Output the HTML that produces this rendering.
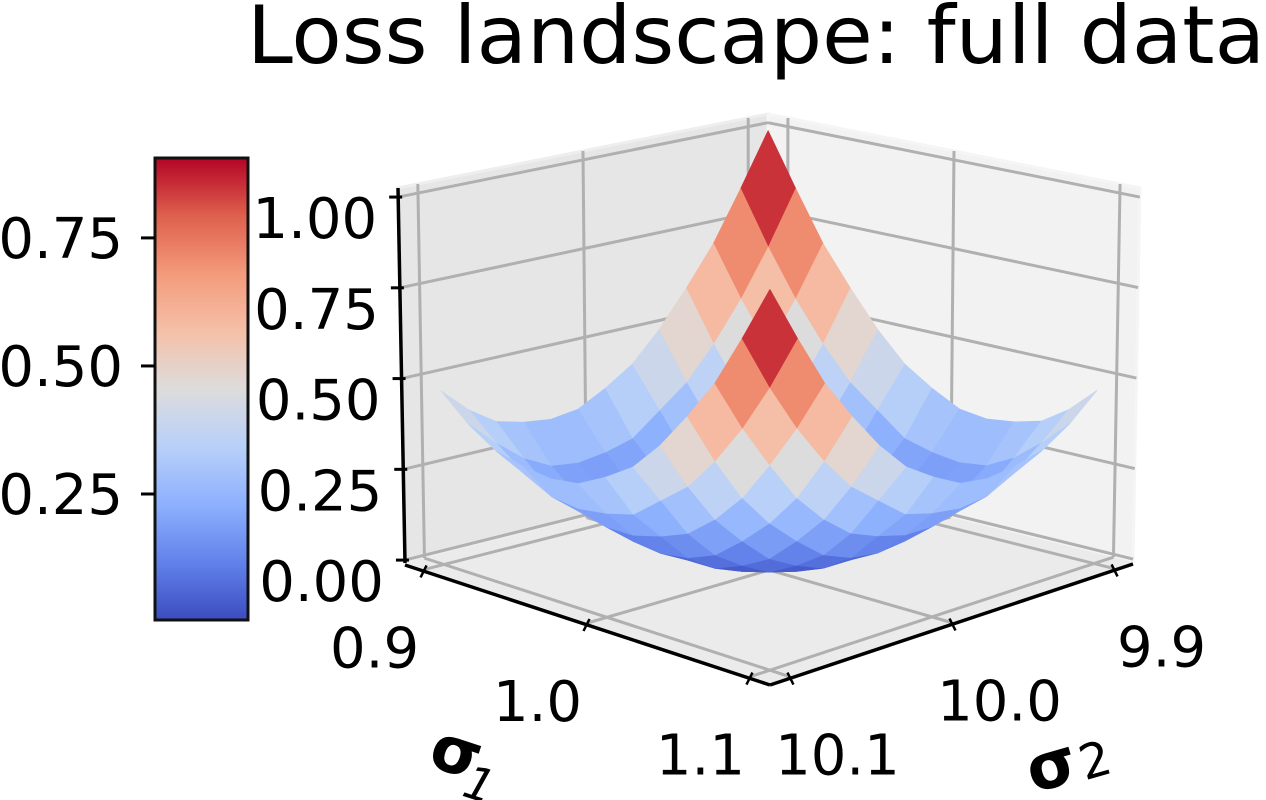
<!DOCTYPE html>
<html><head><meta charset="utf-8"><style>
html,body{margin:0;padding:0;background:#fff;}
svg{display:block;font-family:"DejaVu Sans","Liberation Sans",sans-serif;}
</style></head><body>
<svg id="chart" width="1266" height="800" viewBox="0 0 1266 800" xmlns="http://www.w3.org/2000/svg">
<defs>
<linearGradient id="cmapGrad" x1="0" y1="1" x2="0" y2="0">
<stop offset="0" stop-color="#3b4cc0"/><stop offset="0.125" stop-color="#6282ea"/><stop offset="0.25" stop-color="#8db0fe"/><stop offset="0.375" stop-color="#b8d0f9"/><stop offset="0.5" stop-color="#dddcdc"/><stop offset="0.625" stop-color="#f5c0a8"/><stop offset="0.75" stop-color="#f49a7b"/><stop offset="0.875" stop-color="#de604d"/><stop offset="1" stop-color="#b40426"/>
</linearGradient>
</defs>
<text x="247" y="63" font-size="80" textLength="1018" lengthAdjust="spacingAndGlyphs">Loss landscape: full data</text>
<g id="panes"></g><g id="grid"></g><g id="axes"></g><g id="surface"></g><g id="cbar"></g>
<g transform="rotate(18 465 765)">
<text x="428" y="777" font-size="64" font-weight="bold">σ</text><text x="470" y="795" font-size="46" font-style="italic">1</text></g>
<g transform="rotate(-16 1070 765)">
<text x="1027" y="782" font-size="64" font-weight="bold">σ</text><text x="1080" y="784" font-size="48">2</text></g>
</svg>
<script>
const sigma1 = [0.9,0.9167,0.9333,0.95,0.9667,0.9833,1.0,1.0167,1.0333,1.05,1.0667,1.0833,1.1];
const sigma2 = [9.9,9.9167,9.9333,9.95,9.9667,9.9833,10.0,10.0167,10.0333,10.05,10.0667,10.0833,10.1];
const loss = [
[1.00,.85,.71,.60,.50,.42,.37,.33,.32,.33,.35,.40,.47],
[.85,.70,.57,.46,.37,.31,.25,.23,.22,.23,.27,.33,.40],
[.71,.57,.45,.34,.26,.20,.17,.15,.15,.17,.20,.27,.35],
[.60,.46,.34,.25,.18,.12,.09,.08,.09,.12,.17,.23,.33],
[.50,.37,.26,.18,.11,.07,.04,.04,.06,.09,.15,.22,.32],
[.42,.31,.20,.12,.07,.03,.01,.01,.04,.08,.15,.23,.33],
[.37,.25,.17,.09,.04,.01,0,.01,.04,.09,.17,.25,.37],
[.33,.23,.15,.08,.04,.01,.01,.03,.07,.12,.20,.31,.42],
[.32,.22,.15,.09,.06,.04,.04,.07,.11,.18,.26,.37,.50],
[.33,.23,.17,.12,.09,.08,.09,.12,.18,.25,.34,.46,.60],
[.35,.27,.20,.17,.15,.15,.17,.20,.26,.34,.45,.57,.71],
[.40,.33,.27,.23,.22,.23,.25,.31,.37,.46,.57,.70,.85],
[.47,.40,.35,.33,.32,.33,.37,.42,.50,.60,.71,.85,1.00]
];
const s1Ticks = [0.9,1.0,1.1];
const s1TickLabels = ['0.9','1.0','1.1'];
const s2Ticks = [9.9,10.0,10.1];
const s2TickLabels = ['9.9','10.0','10.1'];
const zTicks = [0,0.25,0.5,0.75,1.0];
const zTickLabels = ['0.00','0.25','0.50','0.75','1.00'];
const cbarTicks = [0.25,0.5,0.75];
const cbarTickLabels = ['0.25','0.50','0.75'];
const colorLimits = [0.004,0.906];
const s1Lim = [0.888,1.112];
const s2Lim = [9.888,10.112];
const zLim = [-0.008,1.025];

const NS='http://www.w3.org/2000/svg';
const FB=[768,472],FL=[405,563],FR=[1133,562],FF=[770,683];
const TB=[768,114],TL=[398,188],TR=[1140,188],TF=[770,291];
function bil(p00,p01,p10,p11,u,v){return [0,1].map(k=>(1-u)*(1-v)*p00[k]+(1-u)*v*p01[k]+u*(1-v)*p10[k]+u*v*p11[k]);}
function P(u,v,w){const f=bil(FB,FL,FR,FF,u,v),t=bil(TB,TL,TR,TF,u,v);return [f[0]+(t[0]-f[0])*w,f[1]+(t[1]-f[1])*w];}
const U=s=>(s-s1Lim[0])/(s1Lim[1]-s1Lim[0]);
const V=s=>(s-s2Lim[0])/(s2Lim[1]-s2Lim[0]);
const W=z=>(z-zLim[0])/(zLim[1]-zLim[0]);
const stops=[[59,76,192],[98,130,234],[141,176,254],[184,208,249],[221,220,220],[245,192,168],[244,154,123],[222,96,77],[180,4,38]];
function cmap(t){t=Math.max(0,Math.min(1,t));const x=t*8,i=Math.min(7,Math.floor(x)),f=x-i;const c=stops[i].map((a,k)=>Math.round(a+(stops[i+1][k]-a)*f));return 'rgb('+c.join(',')+')';}
function mk(tag,attrs,parent){const e=document.createElementNS(NS,tag);for(const k in attrs)e.setAttribute(k,attrs[k]);parent.appendChild(e);return e;}
const pts=a=>a.map(p=>p[0].toFixed(1)+','+p[1].toFixed(1)).join(' ');

const panes=document.getElementById('panes');
let e;
e=mk('polygon',{points:pts([P(0,0,0),P(0,1,0),P(0,1,1),P(0,0,1)]),fill:'#e6e6e6',stroke:'#eeeeee','stroke-width':3},panes);


e=mk('polygon',{points:pts([P(0,0,0),P(1,0,0),P(1,0,1),P(0,0,1)]),fill:'#f2f2f2',stroke:'#f5f5f5','stroke-width':3},panes);


e=mk('polygon',{points:pts([P(0,0,0),P(1,0,0),P(1,1,0),P(0,1,0)]),fill:'#ebebeb'},panes);



const grid=document.getElementById('grid');
function gl(a,b,name){const l=mk('line',{x1:a[0],y1:a[1],x2:b[0],y2:b[1],stroke:'#b0b0b0','stroke-width':3},grid);

}
s1Ticks.forEach(t=>{const u=U(t);gl(P(u,0,0),P(u,1,0),'sigma1-gridline');gl(P(u,0,0),P(u,0,1),'sigma1-gridline');});
s2Ticks.forEach(t=>{const v=V(t);gl(P(0,v,0),P(1,v,0),'sigma2-gridline');gl(P(0,v,0),P(0,v,1),'sigma2-gridline');});
zTicks.forEach(t=>{const w=W(t);gl(P(0,0,w),P(0,1,w),'z-gridline');gl(P(0,0,w),P(1,0,w),'z-gridline');});

const axes=document.getElementById('axes');
function al(a,b,name,wd){const l=mk('line',{x1:a[0],y1:a[1],x2:b[0],y2:b[1],stroke:'#000','stroke-width':wd||2.5},axes);

}
function tx(x,y,s,anchor,name){const t=mk('text',{x:x,y:y,'font-size':56,'text-anchor':anchor},axes);t.textContent=s;

}
al(P(0,1,0),P(0,1,1),'z-axis-line',3.5);
zTicks.forEach((t,i)=>{const p=P(0,1,W(t));al([p[0]-9,p[1]],[p[0]+4,p[1]],'z-tick',3);tx(p[0]-21,p[1]+41,zTickLabels[i],'end','z-tick-label');});
al([FL[0],FL[1]+2],[FF[0],FF[1]+2],'sigma1-axis-line',3.5);
s1Ticks.forEach((t,i)=>{const p=P(U(t),1,0);al([p[0]-4,p[1]+8],[p[0]+2,p[1]-4],'sigma1-tick',2.5);tx(p[0]-50,p[1]+98,s1TickLabels[i],'middle','sigma1-tick-label');});
al([FF[0],FF[1]+2],[FR[0],FR[1]+2],'sigma2-axis-line',3.5);
s2Ticks.forEach((t,i)=>{const p=P(1,V(t),0);al([p[0]+4,p[1]+8],[p[0]-2,p[1]-4],'sigma2-tick',2.5);tx(p[0]+48,p[1]+98,s2TickLabels[i],'middle','sigma2-tick-label');});

const surf=document.getElementById('surface');
const faces=[];
for(let i=0;i<sigma1.length-1;i++)for(let j=0;j<sigma2.length-1;j++){
  const c=[[i,j],[i+1,j],[i+1,j+1],[i,j+1]];
  const avg=c.reduce((s,q)=>s+loss[q[0]][q[1]],0)/4;
  const p3=c.map(q=>[U(sigma1[q[0]]),V(sigma2[q[1]]),W(loss[q[0]][q[1]])]);
  const depth=p3.reduce((s,q)=>s+(q[0]+q[1])*0.676+q[2]*0.219,0)/4;
  faces.push({p3,avg,depth});
}
faces.sort((a,b)=>a.depth-b.depth);
faces.forEach(f=>{const col=cmap((f.avg-colorLimits[0])/(colorLimits[1]-colorLimits[0]));
  const poly=mk('polygon',{points:pts(f.p3.map(q=>P(q[0],q[1],q[2]))),fill:col,stroke:col,'stroke-width':0.8,'stroke-linejoin':'round'},surf);
  
  });

const cb=document.getElementById('cbar');
const cx=155,cy=158,cw=93,ch=462;
e=mk('rect',{x:cx,y:cy,width:cw,height:ch,fill:'url(#cmapGrad)',stroke:'#111','stroke-width':3},cb);


cbarTicks.forEach((t,i)=>{const y=cy+ch-(t-colorLimits[0])/(colorLimits[1]-colorLimits[0])*ch;
  const l=mk('line',{x1:cx-14,y1:y,x2:cx,y2:y,stroke:'#000','stroke-width':3},cb);
  
  
  const tt=mk('text',{x:cx-32,y:y+20,'font-size':56,'text-anchor':'end'},cb);tt.textContent=cbarTickLabels[i];
  
  });
</script>
</body></html>
